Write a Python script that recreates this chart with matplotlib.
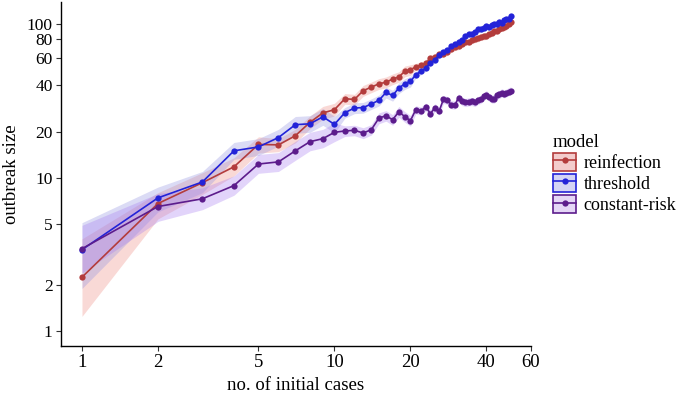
import numpy as np
import matplotlib
matplotlib.use("Agg")
import matplotlib.pyplot as plt
from matplotlib.patches import Patch
from matplotlib.lines import Line2D

plt.rcParams['font.family'] = ['Liberation Serif', 'DejaVu Serif']

# number of initial cases
cases = list(range(1, 51))

reinfection = [2.25, 6.8, 9.3, 11.8, 16.5, 16.4, 18.8, 23.0, 26.5, 27.8,
               32.8, 32.4, 37.0, 39.0, 41.0, 42.0, 44.0, 45.5, 49.5, 50.5,
               53.0, 54.0, 56.0, 60.0, 61.5, 64.0, 64.5, 66.0, 69.0, 71.0,
               72.0, 75.0, 76.5, 77.0, 79.0, 80.0, 81.0, 83.0, 83.5, 84.0,
               86.0, 88.0, 90.0, 91.0, 94.0, 95.0, 95.5, 97.0, 101.0, 103.0]

threshold = [3.4, 7.4, 9.4, 15.0, 15.9, 18.3, 22.2, 22.5, 25.0, 22.3,
             26.6, 28.5, 28.7, 30.3, 32.0, 36.0, 34.4, 38.5, 41.0, 42.5,
             47.0, 49.5, 52.0, 56.0, 59.0, 63.0, 66.0, 68.0, 72.0, 74.0,
             77.0, 79.0, 84.0, 86.0, 86.5, 89.0, 93.0, 93.0, 95.0, 97.0,
             96.0, 99.0, 100.0, 101.0, 104.0, 102.0, 107.0, 108.0, 109.0, 114.0]

constant_risk = [3.45, 6.5, 7.3, 8.9, 12.3, 12.7, 15.0, 17.2, 18.0, 19.8,
                 20.2, 20.4, 19.6, 20.6, 24.5, 25.4, 23.9, 27.0, 25.0, 23.6,
                 27.8, 27.3, 29.0, 26.2, 28.7, 27.3, 32.4, 32.0, 30.0, 29.8,
                 33.3, 31.5, 31.0, 31.3, 31.5, 31.0, 32.0, 32.4, 34.0, 34.9,
                 33.5, 32.7, 32.7, 34.5, 35.0, 35.9, 35.3, 35.8, 36.5, 37.0]

# ribbon bounds
reinf_lo = [1.25, 5.4, 7.8, 10.3, 14.5, 14.8, 16.9, 20.9, 24.1, 25.3,
            30.2, 29.8, 34.0, 35.9, 37.7, 38.6, 40.5, 41.9, 45.5, 46.5,
            50.4, 51.3, 53.2, 57.0, 58.4, 60.8, 61.3, 62.7, 65.6, 67.5,
            68.4, 71.3, 72.7, 73.2, 75.1, 76.0, 77.0, 78.9, 79.3, 79.8,
            81.7, 83.6, 85.5, 86.5, 89.3, 90.3, 90.7, 92.2, 96.0, 97.9]
reinf_hi = [4.0, 8.0, 10.8, 13.5, 18.5, 18.0, 20.7, 25.3, 29.2, 30.6,
            35.4, 35.0, 40.0, 42.1, 44.3, 45.4, 47.5, 49.1, 53.5, 54.5,
            55.7, 56.7, 58.8, 63.0, 64.6, 67.2, 67.7, 69.3, 72.5, 74.6,
            75.6, 78.8, 80.3, 80.9, 83.0, 84.0, 85.1, 87.2, 87.7, 88.2,
            90.3, 92.4, 94.5, 95.6, 98.7, 99.8, 100.3, 101.9, 106.1, 108.2]

thr_lo = [1.9, 6.0, 8.0, 13.2, 14.0, 16.1, 19.5, 19.8, 22.0, 19.6,
          24.5, 26.2, 26.4, 27.9, 29.4, 33.1, 31.6, 35.4, 37.7, 39.1,
          44.7, 47.0, 49.4, 53.2, 56.1, 59.9, 62.7, 64.6, 68.4, 70.3,
          73.2, 75.1, 79.8, 81.7, 82.2, 84.6, 88.4, 88.4, 90.3, 92.2,
          91.2, 94.1, 95.0, 96.0, 98.8, 96.9, 101.7, 102.6, 103.6, 108.3]
thr_hi = [5.1, 8.7, 11.0, 17.0, 18.0, 20.7, 25.1, 25.4, 28.3, 25.2,
          28.7, 30.8, 31.0, 32.7, 34.6, 38.9, 37.2, 41.6, 44.3, 45.9,
          49.4, 52.0, 54.6, 58.8, 62.0, 66.2, 69.3, 71.4, 75.6, 77.7,
          80.9, 83.0, 88.2, 90.3, 90.8, 93.5, 97.7, 97.7, 99.8, 101.9,
          100.8, 104.0, 105.0, 106.1, 109.2, 107.1, 112.4, 113.4, 114.5, 119.7]

cr_lo = [2.4, 5.2, 6.2, 7.7, 10.7, 11.0, 13.0, 15.0, 15.7, 17.2,
         18.6, 18.8, 18.0, 19.0, 22.5, 23.4, 22.0, 24.8, 23.0, 21.7,
         26.1, 25.7, 27.3, 24.6, 27.0, 25.7, 30.5, 30.1, 28.2, 28.0,
         31.3, 29.6, 29.1, 29.4, 29.6, 29.1, 30.1, 30.5, 32.0, 32.8,
         31.5, 30.7, 30.7, 32.4, 32.9, 33.7, 33.2, 33.7, 34.3, 34.8]
cr_hi = [4.9, 7.9, 8.6, 10.3, 14.2, 14.6, 17.3, 19.8, 20.7, 22.8,
         21.8, 22.0, 21.2, 22.2, 26.5, 27.4, 25.8, 29.2, 27.0, 25.5,
         29.5, 28.9, 30.7, 27.8, 30.4, 28.9, 34.3, 33.9, 31.8, 31.6,
         35.3, 33.4, 32.9, 33.2, 33.4, 32.9, 33.9, 34.3, 36.0, 37.0,
         35.5, 34.7, 34.7, 36.6, 37.1, 38.1, 37.4, 37.9, 38.7, 39.2]

labels = ['reinfection', 'threshold', 'constant-risk']
line_colors = ['#b33c3c', '#2323d8', '#5c1c8c']
fill_colors = ['#ee8a80', '#8f8fe0', '#a67cf0']
legend_fill = ['#f3cccc', '#d4d4f4', '#e4d6f6']

series = [(reinfection, reinf_lo, reinf_hi),
          (threshold, thr_lo, thr_hi),
          (constant_risk, cr_lo, cr_hi)]

fig = plt.figure(figsize=(6.81, 3.96), dpi=100)
ax = fig.add_axes([0.0896, 0.126, 0.690, 0.869])

for (vals, lo, hi), fc in zip(series, fill_colors):
    ax.fill_between(cases, lo, hi, color=fc, alpha=0.32, linewidth=0)

for (vals, lo, hi), lc in zip(series, line_colors):
    ax.plot(cases, vals, color=lc, lw=1.2, marker='o', markersize=4.5,
            markeredgewidth=0)

ax.set_xscale('log')
ax.set_yscale('log')
ax.set_xlim(0.826, 60)
ax.set_ylim(0.80, 140)

xt = [1, 2, 5, 10, 20, 40, 60]
yt = [1, 2, 5, 10, 20, 40, 60, 80, 100]
ax.set_xticks(xt)
ax.set_xticklabels([str(t) for t in xt])
ax.set_yticks(yt)
ax.set_yticklabels([str(t) for t in yt])
ax.minorticks_off()
ax.tick_params(axis='x', labelsize=13.5)
ax.tick_params(axis='y', labelsize=12.5)
ax.tick_params(axis='both', length=3.5, width=0.8,
               color='#333333', direction='out', pad=2.5)

for s in ['top', 'right']:
    ax.spines[s].set_visible(False)
for s in ['left', 'bottom']:
    ax.spines[s].set_linewidth(1.0)
    ax.spines[s].set_color('black')

ax.set_xlabel('no. of initial cases', fontsize=13.5, labelpad=4)
ax.set_ylabel('outbreak size', fontsize=13.5, labelpad=5)

handles = []
for lc, lf in zip(line_colors, legend_fill):
    box = Patch(facecolor=lf, edgecolor=lc, linewidth=1.2)
    ln = Line2D([], [], color=lc, lw=1.2, marker='o', markersize=4.5,
                markeredgewidth=0)
    handles.append((box, ln))

leg = fig.legend(handles, labels, title='model', loc='upper left',
                 bbox_to_anchor=(0.812, 0.662), frameon=False,
                 fontsize=13, title_fontsize=13.5, handlelength=1.3,
                 handleheight=1.2, handletextpad=0.4, labelspacing=0.1,
                 borderaxespad=0, borderpad=0)
leg._legend_box.align = 'left'

fig.savefig('out.png', dpi=100)
